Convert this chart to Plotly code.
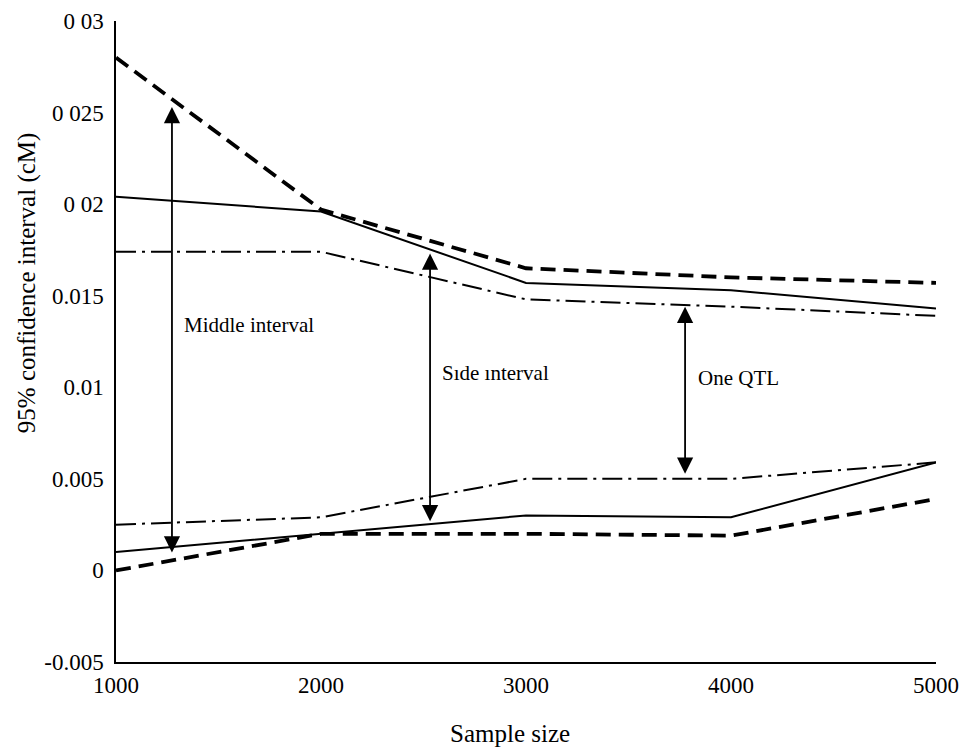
import plotly.graph_objects as go

sample_size = [1000, 2000, 3000, 4000, 5000]

# Upper / lower bounds of the 95% confidence intervals
middle_upper = [0.0280, 0.0197, 0.0165, 0.0160, 0.0157]
middle_lower = [0.0000, 0.0020, 0.0020, 0.0019, 0.0039]
side_upper = [0.0204, 0.0196, 0.0157, 0.0153, 0.0143]
side_lower = [0.0010, 0.0020, 0.0030, 0.0029, 0.0059]
one_upper = [0.0174, 0.0174, 0.0148, 0.0144, 0.0139]
one_lower = [0.0025, 0.0029, 0.0050, 0.0050, 0.0059]

# Double-headed arrow annotations: label, x, y_top, y_bottom, text position
arrow_labels = ["Middle interval", "Sıde ınterval", "One QTL"]
arrow_x = [1273, 2532, 3776]
arrow_top = [0.0253, 0.0173, 0.0144]
arrow_bottom = [0.0009, 0.0026, 0.0052]
label_x = [1322, 2580, 3828]
label_y = [0.0134, 0.0108, 0.0105]

y_tickvals = [-0.005, 0, 0.005, 0.01, 0.015, 0.02, 0.025, 0.03]
y_ticktext = ["-0.005", "0", "0.005", "0.01", "0.015", "0 02", "0 025", "0 03"]
x_tickvals = [1000, 2000, 3000, 4000, 5000]

x_title = "Sample size"
y_title = "95% confidence interval (cM)"

FONT = "Liberation Serif"

fig = go.Figure()
heavy = dict(color="black", width=3.8, dash="15px,8px")
solid = dict(color="black", width=2)
dashdot = dict(color="black", width=2, dash="20px,6px,3px,6px")

for ys, ln in [(middle_upper, heavy), (middle_lower, heavy),
               (side_upper, solid), (side_lower, solid),
               (one_upper, dashdot), (one_lower, dashdot)]:
    fig.add_trace(go.Scatter(x=sample_size, y=ys, mode="lines", line=ln,
                             showlegend=False, hoverinfo="skip"))

for lab, ax_, yt, yb, lx, ly in zip(arrow_labels, arrow_x, arrow_top, arrow_bottom, label_x, label_y):
    fig.add_annotation(x=ax_, y=yt, ax=ax_, ay=yb, xref="x", yref="y", axref="x", ayref="y",
                       showarrow=True, arrowhead=2, startarrowhead=2, arrowside="end+start",
                       arrowsize=1.8, startarrowsize=1.8, arrowwidth=1.8, arrowcolor="black", text="")
    fig.add_annotation(x=lx, y=ly, xref="x", yref="y", text=lab, showarrow=False,
                       xanchor="left", yanchor="middle",
                       font=dict(family=FONT, size=21, color="black"))

# axis titles placed as annotations (positions)
fig.add_annotation(x=0.48, y=-0.111, xref="paper", yref="paper", text=x_title, showarrow=False,
                   xanchor="center", yanchor="middle", font=dict(family=FONT, size=25, color="black"))
fig.add_annotation(x=-0.1085, y=0.591, xref="paper", yref="paper", text=y_title, showarrow=False,
                   textangle=-90, xanchor="center", yanchor="middle",
                   font=dict(family=FONT, size=25, color="black"))

fig.update_layout(
    width=959, height=749,
    margin=dict(l=116, r=23, t=21, b=87, autoexpand=False),
    plot_bgcolor="white", paper_bgcolor="white",
    font=dict(family=FONT, color="black"),
)
fig.update_xaxes(range=[1000, 5000], tickvals=x_tickvals, showgrid=False, zeroline=False,
                 showline=True, linecolor="black", linewidth=2, ticks="", automargin=False,
                 tickfont=dict(family=FONT, size=23), ticklabelstandoff=1)
fig.update_yaxes(range=[-0.005, 0.03], tickvals=y_tickvals, ticktext=y_ticktext,
                 showgrid=False, zeroline=False, showline=True, linecolor="black", linewidth=1.5,
                 ticks="", automargin=False, tickfont=dict(family=FONT, size=23), ticklabelstandoff=6)

fig.write_html("out.html")
